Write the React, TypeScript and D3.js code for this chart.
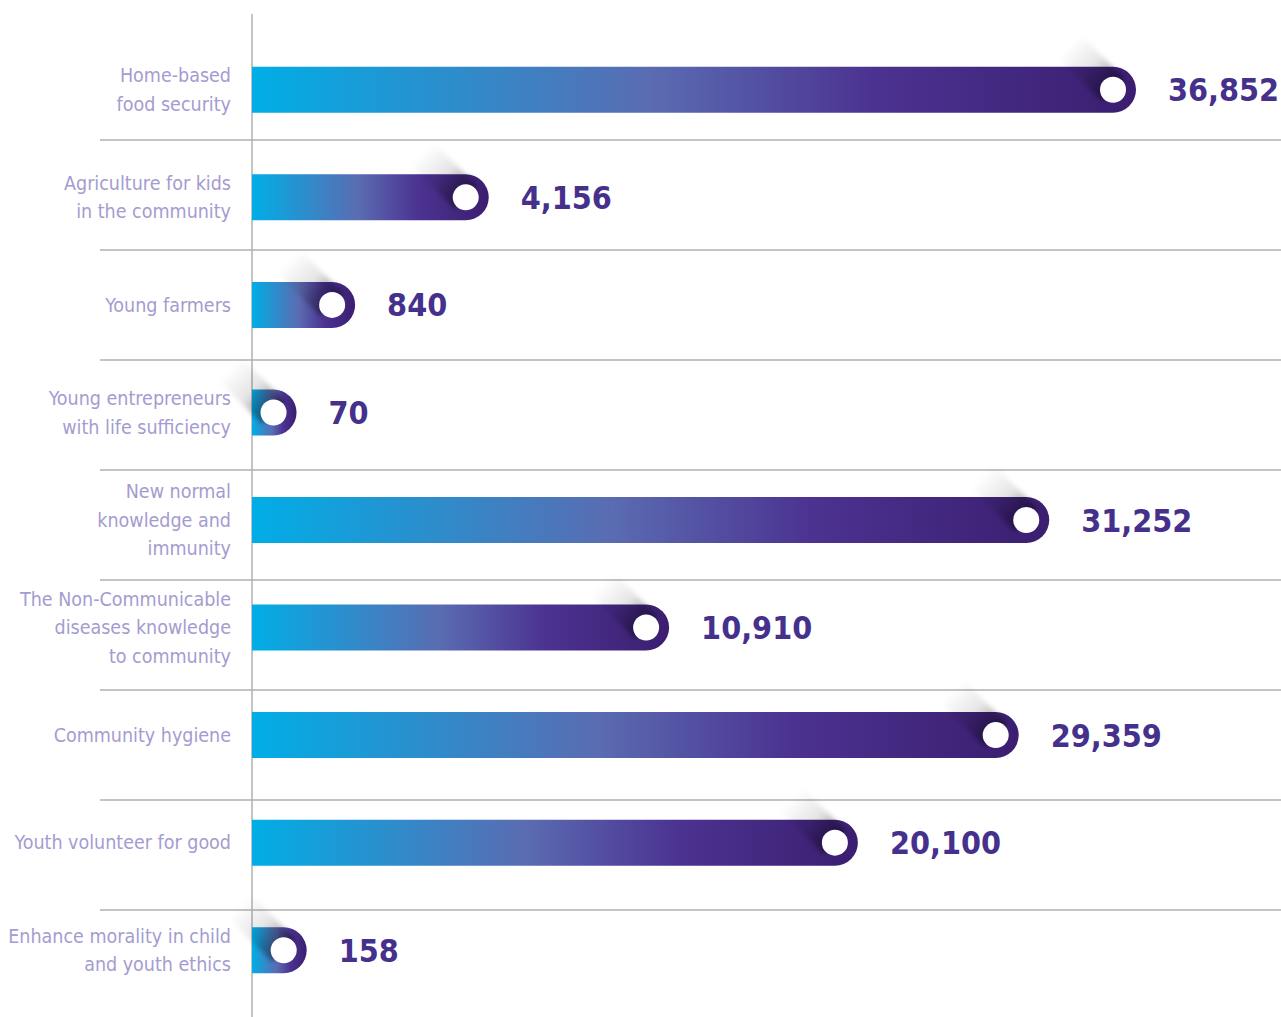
import React, { useEffect, useRef } from "react"
import * as d3 from "d3"

// project names (each entry split into the label lines)
const categories = [
  ["Home-based", "food security"],
  ["Agriculture for kids", "in the community"],
  ["Young farmers"],
  ["Young entrepreneurs", "with life sufficiency"],
  ["New normal", "knowledge and", "immunity"],
  ["The Non-Communicable", "diseases knowledge", "to community"],
  ["Community hygiene"],
  ["Youth volunteer for good"],
  ["Enhance morality in child", "and youth ethics"],
]
const values = [36852, 4156, 840, 70, 31252, 10910, 29359, 20100, 158]

const W = 1281
const H = 1017
const x0 = 252
const barH = 46
const font = "'DejaVu Sans Condensed', 'Liberation Sans Narrow', 'Open Sans', sans-serif"

export default function App() {
  const ref = useRef<SVGSVGElement>(null)

  useEffect(() => {
    const svg = d3.select(ref.current)
    svg.selectAll("*").remove()

    const keys = categories.map((c, i) => String(i))
    const y = d3.scaleBand().domain(keys).range([36, 1004])
    const ySep = d3.scaleBand().domain(keys).range([30, 1020])
    const x = d3.scalePow().exponent(0.65).domain([0, d3.max(values)!]).range([30, 884])

    const defs = svg.append("defs")
    const grad = defs.append("linearGradient").attr("id", "barGrad")
      .attr("x1", "0%").attr("x2", "100%").attr("y1", "0%").attr("y2", "0%")
    grad.append("stop").attr("offset", "0%").attr("stop-color", "#00aee6")
    grad.append("stop").attr("offset", "45%").attr("stop-color", "#5a6cb2")
    grad.append("stop").attr("offset", "70%").attr("stop-color", "#4c3391")
    grad.append("stop").attr("offset", "100%").attr("stop-color", "#3b1e70")

    defs.append("filter").attr("id", "soft")
      .attr("x", "-30%").attr("y", "-30%").attr("width", "160%").attr("height", "160%")
      .append("feGaussianBlur").attr("stdDeviation", 2.5)

    // separators
    svg.append("g").selectAll("line")
      .data(keys.slice(0, -1))
      .join("line")
      .attr("x1", 100).attr("x2", W)
      .attr("y1", d => ySep(d)! + ySep.step())
      .attr("y2", d => ySep(d)! + ySep.step())
      .attr("stroke", "#b0b0b0").attr("stroke-width", 1.5)

    // axis
    svg.append("line")
      .attr("x1", x0).attr("x2", x0).attr("y1", 14).attr("y2", H)
      .attr("stroke", "#b0b0b0").attr("stroke-width", 1.5)

    const rows = svg.append("g").selectAll("g")
      .data(values.map((v, i) => ({ v, i, key: keys[i], lines: categories[i] })))
      .join("g")
      .attr("transform", d => `translate(0,${y(d.key)! + y.bandwidth() / 2})`)

    // bars, flat on the left, round on the right
    rows.append("path")
      .attr("d", d => {
        const w = x(d.v)
        const r = barH / 2
        return `M${x0},${-r}H${x0 + w - r}A${r},${r} 0 0 1 ${x0 + w - r},${r}H${x0}Z`
      })
      .attr("fill", "url(#barGrad)")

    // long shadow from the knob
    rows.each(function (d) {
      const g = d3.select(this)
      const cx = x0 + x(d.v) - barH / 2
      const r = 16
      const L = 62
      const k = Math.SQRT1_2
      const id = "sh" + d.i
      const sg = defs.append("linearGradient").attr("id", id)
        .attr("gradientUnits", "userSpaceOnUse")
        .attr("x1", cx).attr("y1", 0).attr("x2", cx - L * k).attr("y2", -L * k)
      sg.append("stop").attr("offset", "0%").attr("stop-color", "#000").attr("stop-opacity", 0.45)
      sg.append("stop").attr("offset", "50%").attr("stop-color", "#000").attr("stop-opacity", 0.1)
      sg.append("stop").attr("offset", "100%").attr("stop-color", "#000").attr("stop-opacity", 0)
      const p = [
        [cx + r * k, -r * k],
        [cx + r * k - L * k, -r * k - L * k],
        [cx - r * k - L * k, r * k - L * k],
        [cx - r * k, r * k],
      ]
      g.append("path")
        .attr("d", "M" + p.map(q => q.join(",")).join("L") + "Z")
        .attr("fill", `url(#${id})`)
        .attr("filter", "url(#soft)")
      g.append("circle")
        .attr("cx", cx).attr("cy", 0).attr("r", 13)
        .attr("fill", "#fff")
    })

    // values
    rows.append("text")
      .attr("x", d => x0 + x(d.v) + 32)
      .attr("y", 0)
      .attr("dy", "0.36em")
      .attr("font-family", font)
      .attr("font-size", 32)
      .attr("font-weight", 600)
      .attr("fill", "#45308c")
      .text(d => d3.format(",")(d.v))

    // category labels
    rows.append("text")
      .attr("text-anchor", "end")
      .attr("font-family", font)
      .attr("font-size", 19.5)
      .attr("fill", "#a49cd0")
      .selectAll("tspan")
      .data(d => d.lines.map((t, j) => ({ t, j, n: d.lines.length })))
      .join("tspan")
      .attr("x", 231)
      .attr("y", l => (l.j - (l.n - 1) / 2) * 28.5)
      .attr("dy", "0.35em")
      .text(l => l.t)
  }, [])

  return (
    <svg ref={ref} width={W} height={H}
      style={{ position: "absolute", left: 0, top: 0, background: "#fff" }} />
  )
}
